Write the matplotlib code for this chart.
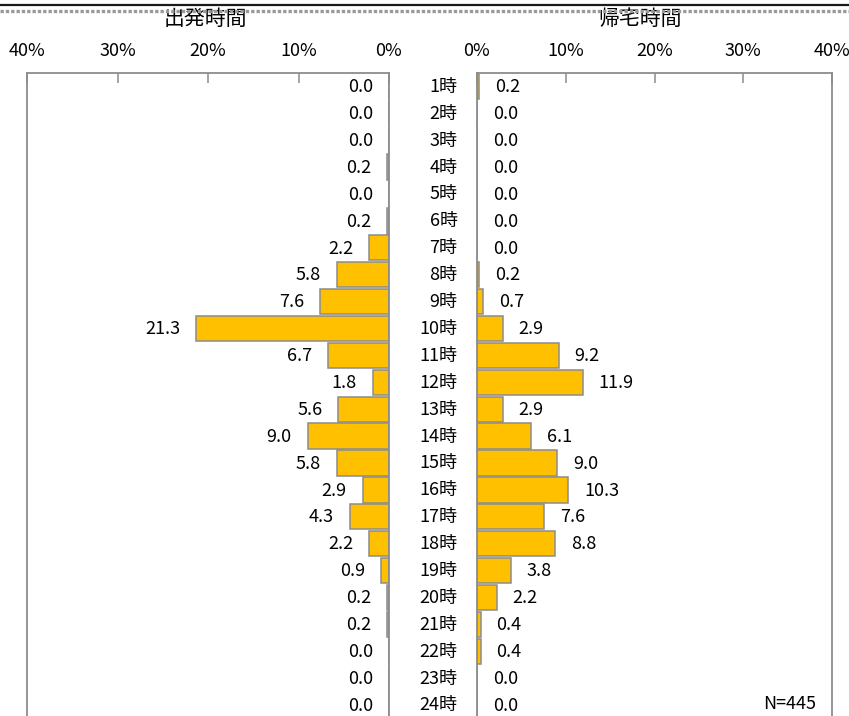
import matplotlib
matplotlib.use("Agg")
import matplotlib.pyplot as plt
from matplotlib.lines import Line2D

plt.rcParams['font.family'] = ['Noto Sans CJK JP', 'DejaVu Sans']

hours = [f"{h}時" for h in range(1, 25)]
departure = [0.0, 0.0, 0.0, 0.2, 0.0, 0.2, 2.2, 5.8, 7.6, 21.3, 6.7, 1.8,
             5.6, 9.0, 5.8, 2.9, 4.3, 2.2, 0.9, 0.2, 0.2, 0.0, 0.0, 0.0]
returning = [0.2, 0.0, 0.0, 0.0, 0.0, 0.0, 0.0, 0.2, 0.7, 2.9, 9.2, 11.9,
             2.9, 6.1, 9.0, 10.3, 7.6, 8.8, 3.8, 2.2, 0.4, 0.4, 0.0, 0.0]
xticks = [0, 10, 20, 30, 40]
xtick_labels = ["0%", "10%", "20%", "30%", "40%"]
titles = ["出発時間", "帰宅時間"]
n_label = "N=445"

W, H = 849, 716
fig = plt.figure(figsize=(W / 100, H / 100), dpi=100)

def fx(px):
    return px / W

def fy(py):
    return 1 - py / H

top_px, bot_px = 73.0, 718.5
axL = fig.add_axes([fx(27), fy(bot_px), fx(389 - 27), (bot_px - top_px) / H])
axR = fig.add_axes([fx(477), fy(bot_px), fx(832 - 477), (bot_px - top_px) / H])

pos = list(range(1, 25))
bar_color = "#FFC000"
edge = "#8C8C8C"

for ax, vals, side in [(axL, departure, "L"), (axR, returning, "R")]:
    ax.barh(pos, vals, height=0.94, color=bar_color, edgecolor=edge, linewidth=1.1, zorder=2)
    ax.set_ylim(24.5, 0.5)
    if side == "L":
        ax.set_xlim(40, 0)
    else:
        ax.set_xlim(0, 40)
    ax.set_xticks(xticks)
    ax.set_xticklabels(xtick_labels, fontsize=13)
    ax.xaxis.set_ticks_position("top")
    ax.xaxis.set_label_position("top")
    ax.tick_params(axis="x", direction="in", length=7, width=1.1, color=edge, pad=9)
    for sp in ax.spines.values():
        sp.set_color(edge)
        sp.set_linewidth(1.3)
    ax.set_yticks([])
    for p, v in zip(pos, vals):
        if side == "L":
            ax.annotate(f"{v:.1f}", (v, p), xytext=(-11.5, -0.5), textcoords="offset points",
                        ha="right", va="center", fontsize=13, color="#000000")
        else:
            ax.annotate(f"{v:.1f}", (v, p), xytext=(11.5, -0.5), textcoords="offset points",
                        ha="left", va="center", fontsize=13, color="#000000")

for p, h in zip(pos, hours):
    axR.annotate(h, (0, p), xycoords=("axes fraction", "data"), xytext=(-14, -0.3),
                 textcoords="offset points", ha="right", va="center", fontsize=13)

axR.text(0.955, 23.95, n_label, transform=axR.get_yaxis_transform(), ha="right", va="center", fontsize=13)

fig.text(fx(205), fy(19), titles[0], ha="center", va="center", fontsize=15)
fig.text(fx(640), fy(19), titles[1], ha="center", va="center", fontsize=15)

fig.add_artist(Line2D([0, 1], [fy(5), fy(5)], color="#1a1a1a", linewidth=1.6, transform=fig.transFigure, zorder=10))
fig.add_artist(Line2D([0, 1], [fy(10.5), fy(10.5)], color="#9a9a9a", linewidth=2.4,
                      linestyle=(0, (1, 0.6)), transform=fig.transFigure, zorder=10))

fig.savefig("out.png", dpi=100)
